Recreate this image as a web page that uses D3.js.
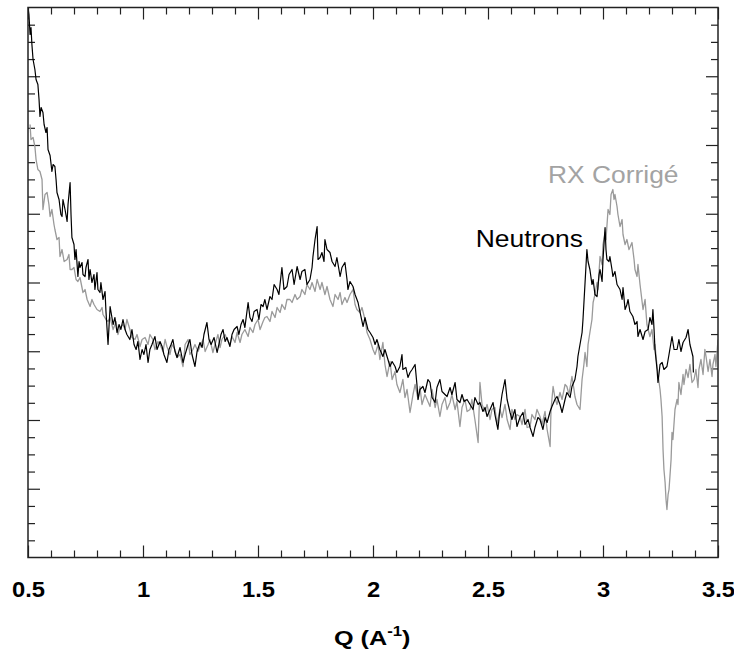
<!DOCTYPE html>
<html>
<head>
<meta charset="utf-8">
<script src="https://cdn.jsdelivr.net/npm/d3@7"></script>
<style>
  html, body { margin: 0; padding: 0; background: #fff; }
  svg { display: block; }
  text { font-family: "Liberation Sans", Arial, Helvetica, sans-serif; }
</style>
</head>
<body>
<svg id="chart" width="734" height="653"></svg>
<script>
// ---------------- DATA ----------------
const xTickLabels = [0.5, 1, 1.5, 2, 2.5, 3, 3.5];
const xTitle = "Q (A";
const xTitleSup = "-1";
const seriesNames = ["Neutrons", "RX Corrigé"];

// Neutrons (black)
const neutronQ = [0.500,0.504,0.509,0.513,0.517,0.522,0.530,0.535,0.543,0.548,0.552,0.557,0.565,0.570,0.578,0.583,0.587,0.596,0.604,0.609,0.617,0.622,0.626,0.635,0.643,0.648,0.652,0.661,0.670,0.674,0.683,0.687,0.691,0.700,0.704,0.709,0.717,0.722,0.726,0.735,0.739,0.748,0.752,0.761,0.765,0.770,0.778,0.787,0.791,0.800,0.804,0.813,0.817,0.826,0.835,0.839,0.848,0.857,0.865,0.870,0.878,0.887,0.896,0.904,0.913,0.922,0.930,0.943,0.952,0.961,0.970,0.978,0.987,0.996,1.004,1.013,1.022,1.030,1.039,1.052,1.061,1.074,1.083,1.091,1.104,1.113,1.122,1.130,1.139,1.148,1.161,1.174,1.183,1.196,1.204,1.213,1.226,1.235,1.248,1.257,1.265,1.278,1.287,1.296,1.309,1.322,1.330,1.339,1.348,1.357,1.365,1.378,1.387,1.396,1.409,1.417,1.426,1.435,1.443,1.457,1.465,1.474,1.483,1.496,1.504,1.513,1.522,1.530,1.539,1.552,1.561,1.570,1.583,1.591,1.604,1.613,1.626,1.635,1.648,1.657,1.670,1.683,1.691,1.704,1.713,1.726,1.735,1.739,1.748,1.757,1.761,1.770,1.778,1.787,1.791,1.800,1.813,1.822,1.835,1.843,1.857,1.865,1.878,1.887,1.891,1.900,1.913,1.922,1.935,1.943,1.957,1.965,1.978,1.987,2.000,2.009,2.017,2.030,2.043,2.052,2.065,2.074,2.083,2.096,2.104,2.117,2.126,2.130,2.143,2.152,2.161,2.170,2.183,2.191,2.196,2.204,2.217,2.226,2.239,2.248,2.257,2.270,2.278,2.291,2.300,2.313,2.322,2.335,2.343,2.357,2.365,2.378,2.387,2.396,2.409,2.422,2.435,2.443,2.457,2.465,2.478,2.487,2.496,2.509,2.522,2.530,2.543,2.552,2.561,2.574,2.583,2.596,2.604,2.617,2.626,2.639,2.652,2.661,2.674,2.683,2.696,2.704,2.717,2.726,2.739,2.748,2.757,2.770,2.778,2.791,2.800,2.813,2.822,2.835,2.843,2.857,2.865,2.878,2.887,2.891,2.900,2.909,2.913,2.922,2.930,2.935,2.943,2.952,2.957,2.965,2.974,2.983,2.987,2.996,3.000,3.009,3.013,3.017,3.026,3.030,3.039,3.043,3.052,3.061,3.074,3.083,3.087,3.096,3.104,3.109,3.117,3.130,3.139,3.148,3.152,3.161,3.174,3.183,3.196,3.204,3.213,3.217,3.222,3.226,3.235,3.239,3.248,3.257,3.265,3.278,3.287,3.300,3.309,3.322,3.330,3.339,3.348,3.361,3.370,3.378,3.391,3.393];
const neutronS = [5.50,5.43,5.23,5.30,5.13,4.98,4.88,4.78,4.73,4.58,4.41,4.50,4.45,4.33,4.25,4.30,4.08,4.02,3.86,3.93,3.91,3.78,3.65,3.58,3.43,3.41,3.58,3.48,3.36,3.53,3.75,3.43,3.20,3.13,2.98,3.08,2.81,2.96,2.90,2.95,2.83,2.81,2.90,2.98,2.78,2.88,2.75,2.83,2.68,2.85,2.68,2.65,2.75,2.58,2.66,2.46,2.13,2.51,2.40,2.33,2.40,2.25,2.33,2.28,2.38,2.28,2.23,2.18,2.28,2.13,2.08,2.16,1.98,2.08,2.03,2.13,1.95,2.08,2.13,2.21,2.08,2.16,2.11,2.03,1.95,2.08,2.13,2.18,2.06,2.00,2.10,1.95,2.03,2.13,2.18,2.03,1.91,2.06,2.15,2.10,2.23,2.35,2.18,2.13,2.20,2.05,2.13,2.23,2.28,2.16,2.20,2.11,2.23,2.28,2.31,2.23,2.33,2.38,2.30,2.55,2.40,2.36,2.46,2.48,2.38,2.53,2.51,2.58,2.48,2.61,2.58,2.73,2.68,2.63,2.90,2.68,2.71,2.83,2.88,2.73,2.91,2.78,2.86,2.88,2.73,2.78,2.90,3.01,3.18,3.31,2.98,3.00,3.05,2.96,3.18,3.08,3.05,2.96,2.91,3.00,2.81,2.90,2.95,2.78,2.68,2.76,2.71,2.63,2.55,2.46,2.31,2.40,2.28,2.25,2.20,2.13,2.18,2.08,2.01,2.08,1.98,1.91,1.96,1.91,1.85,1.91,2.03,1.88,1.90,1.80,1.85,1.88,1.93,1.73,1.58,1.68,1.71,1.65,1.78,1.75,1.60,1.55,1.70,1.78,1.66,1.63,1.61,1.70,1.63,1.75,1.58,1.55,1.63,1.56,1.58,1.53,1.48,1.60,1.53,1.55,1.46,1.50,1.41,1.48,1.55,1.43,1.28,1.48,1.63,1.78,1.58,1.45,1.38,1.48,1.31,1.40,1.45,1.33,1.38,1.30,1.21,1.30,1.40,1.38,1.28,1.40,1.35,1.46,1.51,1.58,1.61,1.53,1.45,1.58,1.65,1.60,1.71,1.78,1.91,2.01,2.13,2.25,2.38,2.75,3.08,2.96,2.88,2.73,2.78,2.63,2.61,2.83,2.88,2.76,2.98,3.30,3.08,2.98,2.96,3.01,2.88,2.81,2.86,2.73,2.68,2.58,2.70,2.48,2.53,2.58,2.46,2.41,2.33,2.36,2.21,2.28,2.18,2.26,2.28,2.40,2.33,2.48,2.28,2.08,1.88,1.75,1.93,1.95,1.88,1.91,2.03,2.21,2.08,2.08,2.18,2.06,2.15,2.20,2.28,2.13,2.01,1.85];

// RX corrigé (grey)
const rxQ = [0.509,0.513,0.522,0.530,0.535,0.543,0.552,0.561,0.565,0.574,0.583,0.591,0.596,0.604,0.613,0.617,0.626,0.635,0.639,0.648,0.657,0.670,0.678,0.683,0.691,0.700,0.709,0.717,0.726,0.739,0.748,0.757,0.770,0.778,0.787,0.800,0.813,0.822,0.826,0.839,0.848,0.857,0.870,0.883,0.891,0.900,0.913,0.922,0.930,0.943,0.952,0.965,0.974,0.987,0.996,1.009,1.022,1.030,1.043,1.052,1.065,1.074,1.087,1.096,1.104,1.117,1.126,1.139,1.148,1.161,1.174,1.183,1.196,1.204,1.217,1.226,1.239,1.248,1.261,1.270,1.283,1.291,1.304,1.313,1.326,1.335,1.343,1.357,1.365,1.378,1.387,1.400,1.409,1.422,1.430,1.443,1.457,1.465,1.478,1.487,1.500,1.509,1.522,1.530,1.539,1.552,1.561,1.574,1.583,1.596,1.604,1.617,1.626,1.639,1.648,1.661,1.670,1.683,1.691,1.704,1.713,1.726,1.735,1.748,1.757,1.770,1.778,1.791,1.800,1.813,1.826,1.835,1.848,1.857,1.865,1.878,1.887,1.900,1.913,1.922,1.930,1.943,1.952,1.965,1.974,1.987,2.000,2.009,2.022,2.030,2.043,2.052,2.061,2.074,2.083,2.096,2.104,2.117,2.130,2.139,2.148,2.161,2.174,2.183,2.196,2.204,2.213,2.226,2.235,2.248,2.257,2.270,2.278,2.291,2.300,2.313,2.322,2.335,2.343,2.357,2.365,2.378,2.387,2.400,2.409,2.422,2.430,2.443,2.457,2.465,2.474,2.487,2.496,2.509,2.517,2.530,2.539,2.552,2.561,2.574,2.583,2.596,2.604,2.617,2.626,2.639,2.648,2.661,2.670,2.683,2.691,2.704,2.713,2.726,2.735,2.748,2.757,2.770,2.774,2.783,2.791,2.800,2.813,2.822,2.835,2.843,2.852,2.865,2.874,2.878,2.887,2.900,2.909,2.917,2.922,2.930,2.935,2.943,2.952,2.957,2.965,2.974,2.978,2.987,2.996,3.000,3.009,3.013,3.022,3.030,3.035,3.043,3.048,3.052,3.061,3.065,3.074,3.083,3.087,3.096,3.104,3.113,3.117,3.126,3.135,3.139,3.148,3.152,3.161,3.174,3.183,3.191,3.204,3.213,3.222,3.226,3.235,3.239,3.248,3.252,3.257,3.261,3.265,3.270,3.274,3.278,3.283,3.287,3.291,3.296,3.300,3.304,3.313,3.322,3.326,3.330,3.339,3.348,3.352,3.361,3.370,3.378,3.387,3.396,3.404,3.413,3.417,3.426,3.435,3.443,3.448,3.457,3.465,3.474,3.478,3.487,3.491,3.500];
const rxS = [4.33,4.18,4.20,4.11,3.98,3.88,3.86,3.78,3.48,3.63,3.65,3.53,3.41,3.48,3.33,3.28,3.18,3.20,3.01,3.08,2.96,2.98,3.03,2.88,2.88,2.90,2.78,2.76,2.80,2.65,2.68,2.58,2.51,2.58,2.53,2.48,2.46,2.50,2.43,2.38,2.36,2.40,2.28,2.36,2.23,2.30,2.33,2.28,2.38,2.28,2.20,2.18,2.23,2.11,2.18,2.20,2.13,2.23,2.18,2.08,2.16,2.13,2.06,2.18,2.11,2.03,2.13,2.08,2.00,2.03,1.91,2.13,2.18,2.03,2.08,2.13,2.06,2.11,2.18,2.06,2.13,2.18,2.05,2.13,2.23,2.10,2.18,2.23,2.18,2.13,2.21,2.15,2.25,2.15,2.23,2.28,2.21,2.30,2.25,2.33,2.38,2.28,2.36,2.40,2.41,2.36,2.46,2.40,2.50,2.45,2.53,2.48,2.58,2.58,2.55,2.63,2.58,2.61,2.68,2.63,2.73,2.68,2.75,2.66,2.78,2.68,2.75,2.63,2.71,2.58,2.51,2.63,2.58,2.65,2.53,2.60,2.55,2.63,2.68,2.53,2.48,2.45,2.50,2.38,2.25,2.18,2.08,2.03,2.13,1.98,2.15,1.93,1.81,1.96,1.78,1.86,1.73,1.65,1.78,1.60,1.68,1.45,1.63,1.73,1.58,1.71,1.53,1.63,1.58,1.51,1.68,1.50,1.58,1.41,1.53,1.60,1.48,1.55,1.63,1.48,1.56,1.31,1.50,1.58,1.46,1.48,1.58,1.38,1.15,1.75,1.53,1.46,1.53,1.38,1.48,1.50,1.33,1.48,1.40,1.53,1.38,1.28,1.48,1.38,1.43,1.41,1.33,1.48,1.30,1.31,1.43,1.38,1.48,1.41,1.33,1.46,1.28,1.11,1.48,1.71,1.60,1.53,1.65,1.58,1.73,1.71,1.63,1.81,1.68,1.61,1.53,1.48,1.78,1.93,2.05,1.91,2.13,2.25,2.38,2.55,2.63,2.75,2.68,3.01,2.93,3.13,3.25,3.18,3.48,3.43,3.63,3.68,3.58,3.63,3.51,3.43,3.31,3.38,3.23,3.13,3.18,3.08,3.10,3.15,2.98,2.88,2.81,2.93,2.73,2.48,2.58,2.33,2.21,2.28,2.08,2.13,1.91,1.83,1.68,1.58,1.41,1.08,0.88,0.75,0.58,0.48,0.63,0.68,0.81,0.98,1.25,1.18,1.48,1.58,1.53,1.75,1.63,1.83,1.73,1.88,1.80,1.93,1.75,1.78,1.88,1.70,1.88,1.98,1.83,2.08,2.01,1.86,1.98,1.81,1.93,2.03,1.91,2.18];

// ---------------- CHART ----------------
const svg = d3.select("#chart");
const pLeft = 28, pRight = 718, pTop = 7.5, pBottom = 557.5;

const x = d3.scaleLinear().domain([0.5, 3.5]).range([pLeft, pRight]);
const y = d3.scaleLinear().domain([0, 5.5]).range([pBottom, pTop]);

const xMinor = d3.range(5, 36).map(i => i / 10).filter(v => !xTickLabels.some(m => Math.abs(m - v) < 1e-9));
const yAll = d3.range(1, 32).map(i => i * 5.5 / 32);
const yMajor = yAll.filter((d, i) => (i + 1) % 4 === 0);
const yMinor = yAll.filter((d, i) => (i + 1) % 4 !== 0);

svg.append("defs").append("clipPath").attr("id", "plotclip")
  .append("rect").attr("x", pLeft).attr("y", pTop).attr("width", pRight - pLeft).attr("height", pBottom - pTop);

function styleAxis(g) {
  g.select(".domain").remove();
  g.selectAll(".tick line").attr("stroke", "#222").attr("stroke-width", 1.2);
}

// bottom axis: majors with labels
const gB = svg.append("g").attr("transform", `translate(0,${pBottom})`)
  .call(d3.axisBottom(x).tickValues(xTickLabels).tickSize(-12).tickPadding(24).tickFormat(d => String(d)));
styleAxis(gB);
gB.selectAll(".tick text")
  .attr("font-size", 22).attr("font-weight", "bold").attr("fill", "#000")
  .attr("font-family", "'Liberation Sans', Arial, sans-serif")
  .attr("transform", "scale(1.08,1)");
svg.append("g").attr("transform", `translate(0,${pBottom})`)
  .call(d3.axisBottom(x).tickValues(xMinor).tickSize(-7).tickFormat(""))
  .call(styleAxis);

// top axis
svg.append("g").attr("transform", `translate(0,${pTop})`)
  .call(d3.axisTop(x).tickValues(xTickLabels).tickSize(-12).tickFormat(""))
  .call(styleAxis);
svg.append("g").attr("transform", `translate(0,${pTop})`)
  .call(d3.axisTop(x).tickValues(xMinor).tickSize(-7).tickFormat(""))
  .call(styleAxis);

// left axis
svg.append("g").attr("transform", `translate(${pLeft},0)`)
  .call(d3.axisLeft(y).tickValues(yMajor).tickSize(-12).tickFormat(""))
  .call(styleAxis);
svg.append("g").attr("transform", `translate(${pLeft},0)`)
  .call(d3.axisLeft(y).tickValues(yMinor).tickSize(-7).tickFormat(""))
  .call(styleAxis);

// right axis
svg.append("g").attr("transform", `translate(${pRight},0)`)
  .call(d3.axisRight(y).tickValues(yMajor).tickSize(-12).tickFormat(""))
  .call(styleAxis);
svg.append("g").attr("transform", `translate(${pRight},0)`)
  .call(d3.axisRight(y).tickValues(yMinor).tickSize(-7).tickFormat(""))
  .call(styleAxis);

// lines
const line = d3.line().x(d => x(d[0])).y(d => y(d[1]));
const plot = svg.append("g").attr("clip-path", "url(#plotclip)");
plot.append("path").datum(d3.zip(rxQ, rxS))
  .attr("d", line).attr("fill", "none").attr("stroke", "#9a9a9a").attr("stroke-width", 1.3)
  .attr("stroke-linejoin", "round");
plot.append("path").datum(d3.zip(neutronQ, neutronS))
  .attr("d", line).attr("fill", "none").attr("stroke", "#000").attr("stroke-width", 1.2)
  .attr("stroke-linejoin", "round");

// frame
svg.append("rect").attr("x", pLeft).attr("y", pTop).attr("width", pRight - pLeft).attr("height", pBottom - pTop)
  .attr("fill", "none").attr("stroke", "#222").attr("stroke-width", 1.5);

// series labels
svg.append("text").attr("transform", "translate(583,247) scale(1.08,1)")
  .attr("text-anchor", "end").attr("font-size", 24.5).attr("fill", "#000")
  .text(seriesNames[0]);
svg.append("text").attr("transform", "translate(548,183) scale(1.1,1)")
  .attr("text-anchor", "start").attr("font-size", 24).attr("fill", "#a3a3a3")
  .text(seriesNames[1]);

// x title
const t = svg.append("text").attr("transform", "translate(334,645) scale(1.2,1)")
  .attr("font-size", 21).attr("font-weight", "bold").attr("fill", "#000");
t.append("tspan").text(xTitle);
t.append("tspan").attr("font-size", 14).attr("dy", -9).text(xTitleSup);
t.append("tspan").attr("dy", 9).text(")");
</script>
</body>
</html>
